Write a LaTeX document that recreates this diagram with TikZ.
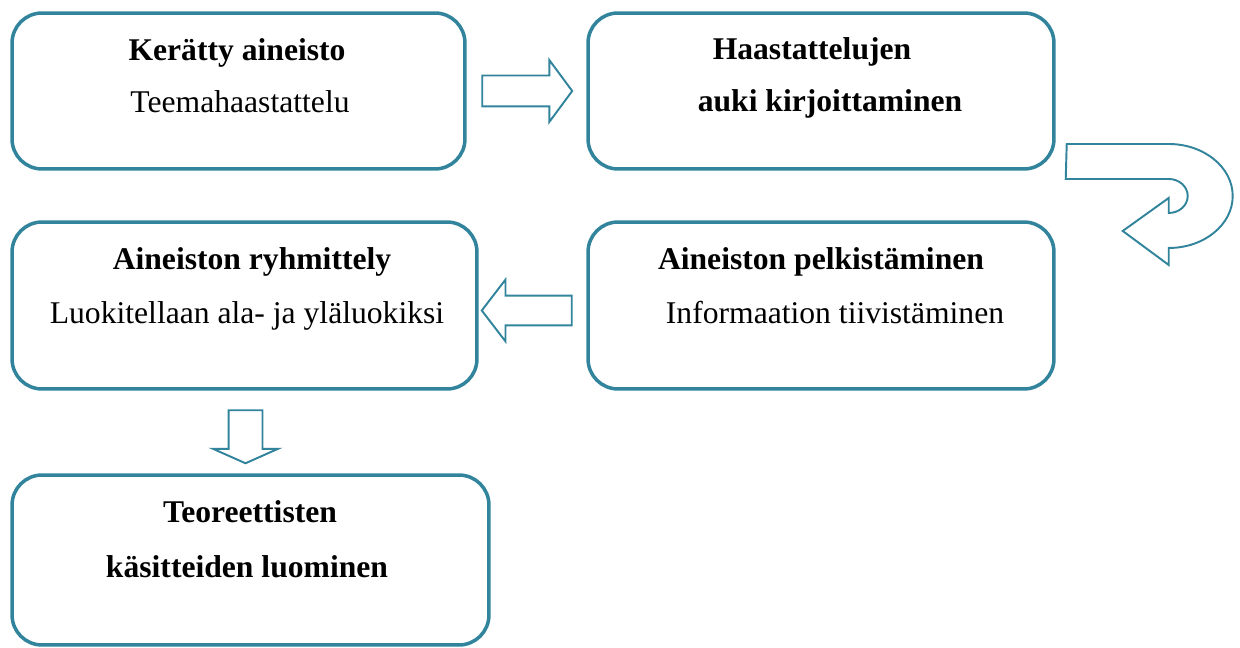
\documentclass[tikz,border=0pt]{standalone}
\usepackage{fontspec}
\setmainfont{Liberation Serif}
\usepackage{xcolor}
\usetikzlibrary{shapes.arrows,positioning,calc}
\definecolor{StepTeal}{HTML}{31849B}
\tikzset{
    % Rounded step box
    stepbox/.style={
        draw=StepTeal,
        fill=white,
        line width=2pt,
        rounded corners=0.6cm,
        inner sep=0pt
    },
    % Bold title line
    titletext/.style={
        anchor=base,
        inner sep=0pt,
        font=\fontsize{18}{22}\selectfont\bfseries
    },
    % Plain text line
    bodytext/.style={
        anchor=base,
        inner sep=0pt,
        font=\fontsize{18}{22}\selectfont
    },
    % Hollow block arrow
    blockarrow/.style={
        single arrow,
        draw=StepTeal,
        fill=white,
        line width=1.1pt,
        inner sep=0pt,
        single arrow head indent=0pt
    },
    % Curved turn arrow
    turnarrow/.style={
        draw=StepTeal,
        fill=white,
        line width=1.1pt
    }
}
\begin{document}
\begin{tikzpicture}[x=0.02cm, y=-0.02cm]
        \useasboundingbox (0,0) rectangle (1240,648);

        % Step boxes
        \node[stepbox, minimum width=9.06cm, minimum height=3.12cm] (b1) at (238.5,91) {};
        \node[stepbox, minimum width=9.32cm, minimum height=3.12cm] (b2) at (821,91) {};
        \node[stepbox, minimum width=9.30cm, minimum height=3.34cm] (b3) at (244.5,305.5) {};
        \node[stepbox, minimum width=9.32cm, minimum height=3.34cm] (b4) at (821,305.5) {};
        \node[stepbox, minimum width=9.54cm, minimum height=3.40cm] (b5) at (250.5,560) {};

        % Texts
        \node[titletext] (t1) at (237,61) {Kerätty aineisto};
        \node[bodytext] (s1) at (240,113) {Teemahaastattelu};
        \node[titletext] (t2) at (812,60) {Haastattelujen};
        \node[titletext] (s2) at (830,112) {auki kirjoittaminen};
        \node[titletext] (t3) at (252,270) {Aineiston ryhmittely};
        \node[bodytext] (s3) at (247,324) {Luokitellaan ala- ja yläluokiksi};
        \node[titletext] (t4) at (821,270) {Aineiston pelkistäminen};
        \node[bodytext] (s4) at (835,324) {Informaation tiivistäminen};
        \node[titletext] (t5) at (250,522) {Teoreettisten};
        \node[titletext] (s5) at (247,577) {käsitteiden luominen};

        % Block arrows
        \node[blockarrow, minimum height=1.8cm, inner ysep=0.29cm, single arrow head extend=0.31cm, single arrow tip angle=107] (a12) at ($(b1.east)!0.5!(b2.west)+(-5,0)$) {};
        \node[blockarrow, rotate=180, minimum height=1.8cm, inner ysep=0.28cm, single arrow head extend=0.32cm, single arrow tip angle=105] (a43) at ($(b4.west)!0.5!(b3.east)+(0,5)$) {};
        \node[blockarrow, rotate=-90, minimum height=1.06cm, inner ysep=0.32cm, single arrow head extend=0.31cm, single arrow tip angle=132] (a35) at ($(b3.south)!0.5!(b5.north)+(-2,1)$) {};

        % Turn arrow
        \coordinate (u0) at ($(b2.east)+(11,53)$);
        \draw[turnarrow] (u0) -- ++(102,0)
            arc[start angle=90, end angle=-90, x radius=1.28cm, y radius=1.04cm]
            -- ++(0,17) -- ++(-46,-34) -- ++(46,-33) -- ++(0,15)
            arc[start angle=-90, end angle=90, x radius=0.38cm, y radius=0.34cm]
            -- ++(-103,0) -- cycle;
    \end{tikzpicture}
\end{document}
